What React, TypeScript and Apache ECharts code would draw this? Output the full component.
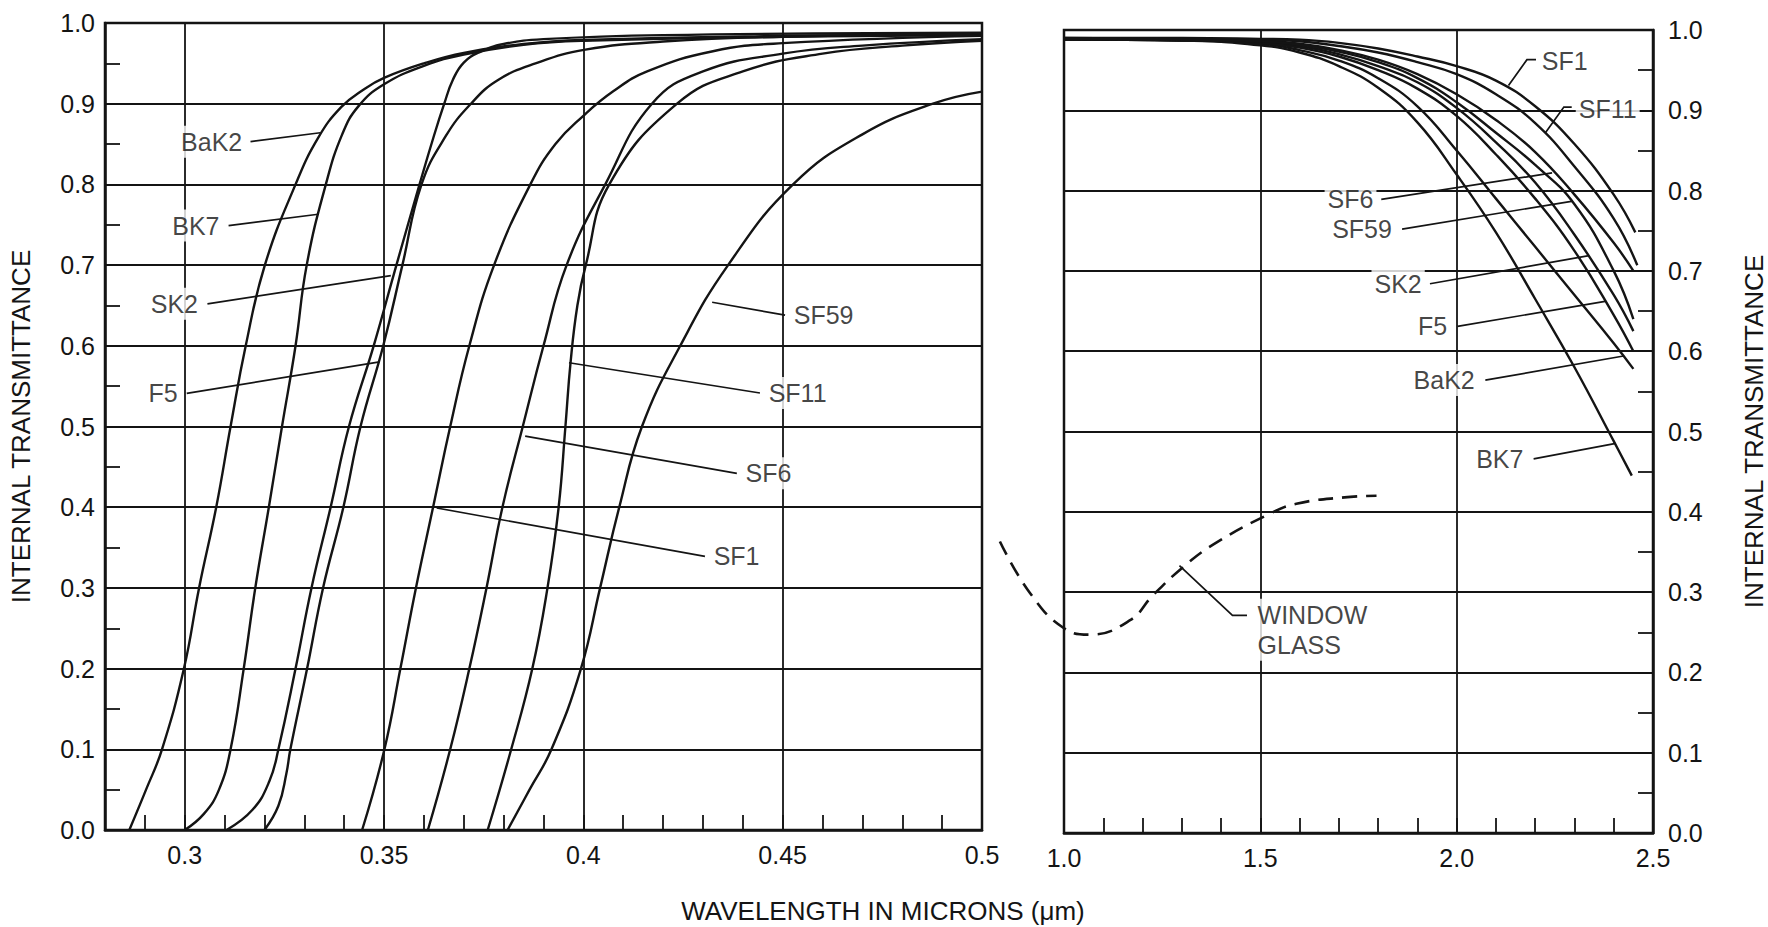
import React, { useEffect, useRef } from "react";
import * as echarts from "echarts";

type P = [number, number];

// ---------- UV edge (left panel), x = wavelength in microns, y = internal transmittance ----------
const bak2UV: P[] = [[0.2861,0],[0.2903,0.05],[0.2943,0.1],[0.2998,0.2],[0.3036,0.3],[0.3079,0.4],[0.3115,0.5],[0.3153,0.6],[0.3201,0.7],[0.3278,0.8],[0.3335,0.858],[0.3393,0.896],[0.345,0.918],[0.35,0.932],[0.36,0.95],[0.37,0.963],[0.385,0.974],[0.4,0.979],[0.45,0.984],[0.5,0.986]];
const bk7UV: P[] = [[0.3,0],[0.3048,0.02],[0.3086,0.05],[0.3115,0.1],[0.3148,0.2],[0.3177,0.3],[0.3211,0.4],[0.3244,0.5],[0.3278,0.6],[0.3306,0.7],[0.3354,0.8],[0.3395,0.862],[0.3436,0.897],[0.35,0.924],[0.36,0.947],[0.37,0.961],[0.385,0.973],[0.4,0.978],[0.45,0.983],[0.5,0.985]];
const sk2UV: P[] = [[0.3105,0],[0.317,0.025],[0.3212,0.06],[0.3235,0.1],[0.3278,0.2],[0.3318,0.3],[0.3366,0.4],[0.3412,0.5],[0.3474,0.6],[0.3531,0.7],[0.3589,0.8],[0.3625,0.86],[0.3651,0.9],[0.3673,0.93],[0.37,0.951],[0.374,0.964],[0.38,0.974],[0.39,0.98],[0.42,0.985],[0.5,0.988]];
const f5UV: P[] = [[0.32,0],[0.3235,0.03],[0.3255,0.07],[0.3265,0.1],[0.3307,0.2],[0.3347,0.3],[0.3398,0.4],[0.3441,0.5],[0.3498,0.6],[0.3546,0.7],[0.3594,0.8],[0.3655,0.86],[0.3718,0.9],[0.3785,0.929],[0.388,0.95],[0.4005,0.967],[0.42,0.977],[0.45,0.983],[0.5,0.986]];
const sf1UV: P[] = [[0.3445,0],[0.3501,0.1],[0.3541,0.2],[0.358,0.3],[0.3623,0.4],[0.3666,0.5],[0.3714,0.6],[0.3776,0.7],[0.3867,0.8],[0.393,0.85],[0.4,0.885],[0.4074,0.915],[0.416,0.94],[0.4325,0.965],[0.45,0.975],[0.5,0.984]];
const sf6UV: P[] = [[0.361,0],[0.3666,0.1],[0.3714,0.2],[0.3757,0.3],[0.3797,0.4],[0.3848,0.5],[0.39,0.6],[0.3958,0.7],[0.4055,0.8],[0.4172,0.9],[0.43,0.94],[0.45,0.962],[0.47,0.972],[0.5,0.98]];
const sf11UV: P[] = [[0.376,0],[0.3819,0.1],[0.3872,0.2],[0.391,0.3],[0.3938,0.4],[0.3955,0.5],[0.3968,0.58],[0.3985,0.65],[0.4006,0.7],[0.4065,0.8],[0.4235,0.9],[0.44,0.94],[0.46,0.962],[0.48,0.972],[0.5,0.978]];
const sf59UV: P[] = [[0.381,0],[0.3865,0.05],[0.392,0.1],[0.3994,0.2],[0.4042,0.3],[0.409,0.4],[0.4147,0.5],[0.4243,0.6],[0.4363,0.7],[0.4526,0.8],[0.47,0.862],[0.4877,0.9],[0.5,0.915]];

// ---------- IR edge (right panel) ----------
const bk7IR: P[] = [[1.0,0.988],[1.3,0.987],[1.5,0.981],[1.6,0.972],[1.7,0.955],[1.8,0.928],[1.9,0.885],[2.0,0.82],[2.1,0.748],[2.2,0.665],[2.3,0.58],[2.4,0.488],[2.446,0.445]];
const bak2IR: P[] = [[1.0,0.988],[1.3,0.987],[1.5,0.983],[1.6,0.975],[1.7,0.962],[1.8,0.94],[1.9,0.905],[2.0,0.85],[2.1,0.79],[2.2,0.73],[2.3,0.67],[2.4,0.61],[2.45,0.578]];
const f5IR: P[] = [[1.0,0.988],[1.3,0.987],[1.5,0.984],[1.6,0.978],[1.7,0.967],[1.8,0.95],[1.9,0.927],[2.0,0.893],[2.1,0.845],[2.2,0.79],[2.3,0.725],[2.4,0.645],[2.45,0.6]];
const sk2IR: P[] = [[1.0,0.989],[1.3,0.988],[1.5,0.985],[1.6,0.98],[1.7,0.97],[1.8,0.955],[1.9,0.935],[2.0,0.903],[2.1,0.86],[2.2,0.81],[2.3,0.745],[2.4,0.67],[2.45,0.625]];
const sf59IR: P[] = [[1.0,0.989],[1.3,0.988],[1.5,0.986],[1.6,0.982],[1.7,0.973],[1.8,0.96],[1.9,0.94],[2.0,0.91],[2.1,0.872],[2.2,0.832],[2.3,0.783],[2.4,0.7],[2.45,0.64]];
const sf6IR: P[] = [[1.0,0.989],[1.3,0.988],[1.5,0.986],[1.6,0.983],[1.7,0.975],[1.8,0.963],[1.9,0.945],[2.0,0.92],[2.1,0.888],[2.2,0.848],[2.3,0.795],[2.4,0.735],[2.45,0.7]];
const sf11IR: P[] = [[1.0,0.99],[1.3,0.989],[1.5,0.988],[1.6,0.986],[1.7,0.98],[1.8,0.972],[1.9,0.96],[2.0,0.945],[2.1,0.92],[2.2,0.884],[2.3,0.83],[2.4,0.765],[2.46,0.707]];
const sf1IR: P[] = [[1.0,0.99],[1.3,0.99],[1.5,0.989],[1.6,0.988],[1.7,0.984],[1.8,0.977],[1.9,0.967],[2.0,0.955],[2.1,0.937],[2.2,0.905],[2.3,0.858],[2.4,0.795],[2.455,0.748]];
const windowGlass: P[] = [[0.84,0.363],[0.915,0.299],[1.0,0.255],[1.065,0.247],[1.165,0.265],[1.222,0.296],[1.297,0.331],[1.372,0.359],[1.507,0.396],[1.58,0.41],[1.7,0.418],[1.78,0.42]];

// ---------- axes ----------
const leftMajorX = [0.3, 0.35, 0.4, 0.45];
const rightMajorX = [1.5, 2.0];
const glassAxisMin = 0.84; // the window-glass trace starts in the gap left of the right panel

// ---------- annotations: label anchor, side, leader path (data units) ----------
type Note = { name: string; at: P; side: "left" | "right"; leader: P[] };
const leftNotes: Note[] = [
  { name: "BaK2", at: [0.3153, 0.853], side: "left", leader: [[0.3165, 0.853], [0.334, 0.864]] },
  { name: "BK7", at: [0.3096, 0.749], side: "left", leader: [[0.311, 0.749], [0.3335, 0.763]] },
  { name: "SK2", at: [0.3042, 0.652], side: "left", leader: [[0.3057, 0.652], [0.3517, 0.687]] },
  { name: "F5", at: [0.2991, 0.541], side: "left", leader: [[0.3005, 0.541], [0.3489, 0.58]] },
  { name: "SF1", at: [0.4318, 0.339], side: "right", leader: [[0.4305, 0.339], [0.3632, 0.399]] },
  { name: "SF6", at: [0.4398, 0.442], side: "right", leader: [[0.4385, 0.442], [0.3854, 0.488]] },
  { name: "SF11", at: [0.4456, 0.5415], side: "right", leader: [[0.4443, 0.5415], [0.3964, 0.579]] },
  { name: "SF59", at: [0.4519, 0.638], side: "right", leader: [[0.4506, 0.638], [0.4323, 0.654]] },
];
const rightNotes: Note[] = [
  { name: "SF1", at: [2.208, 0.962], side: "right", leader: [[2.202, 0.963], [2.179, 0.963], [2.132, 0.931]] },
  { name: "SF11", at: [2.302, 0.902], side: "right", leader: [[2.293, 0.904], [2.273, 0.904], [2.226, 0.872]] },
  { name: "SF6", at: [1.797, 0.789], side: "left", leader: [[1.808, 0.789], [2.243, 0.822]] },
  { name: "SF59", at: [1.844, 0.752], side: "left", leader: [[1.861, 0.752], [2.296, 0.787]] },
  { name: "SK2", at: [1.92, 0.684], side: "left", leader: [[1.932, 0.684], [2.337, 0.719]] },
  { name: "F5", at: [1.985, 0.631], side: "left", leader: [[2.002, 0.631], [2.378, 0.662]] },
  { name: "BaK2", at: [2.055, 0.564], side: "left", leader: [[2.073, 0.564], [2.425, 0.594]] },
  { name: "BK7", at: [2.179, 0.466], side: "left", leader: [[2.196, 0.466], [2.402, 0.485]] },
  { name: "WINDOW\nGLASS", at: [1.484, 0.253], side: "right", leader: [[1.466, 0.271], [1.429, 0.271], [1.294, 0.333]] },
];

const uvSeries: [string, P[]][] = [["BaK2", bak2UV], ["BK7", bk7UV], ["SK2", sk2UV], ["F5", f5UV], ["SF1", sf1UV], ["SF6", sf6UV], ["SF11", sf11UV], ["SF59", sf59UV]];
const irSeries: [string, P[]][] = [["BaK2", bak2IR], ["BK7", bk7IR], ["SK2", sk2IR], ["F5", f5IR], ["SF1", sf1IR], ["SF6", sf6IR], ["SF11", sf11IR], ["SF59", sf59IR]];

const INK = "#141414";
const FONT = "Liberation Sans";

// right panel geometry (px)
const R_LEFT = 1064;
const R_WIDTH = 601;
const R_MIN = 1.0;
const R_MAX = 2.5;

function buildOption(): any {
  const near = (v: number, step: number) => Math.abs(v / step - Math.round(v / step)) < 1e-6;
  const axisCommon = {
    type: "value",
    axisLine: { show: true, onZero: false, lineStyle: { color: INK, width: 2.5 } },
    axisTick: { show: true, inside: true, length: 15, lineStyle: { color: INK, width: 1.8 } },
    axisLabel: { color: INK, fontSize: 25, fontFamily: FONT },
    splitLine: { show: false },
  };
  const yCommon = (gridIndex: number, position: string, margin: number, nameGap: number) => ({
    ...axisCommon,
    gridIndex,
    position,
    min: 0,
    max: 1,
    interval: 0.1,
    minorTick: { show: true, splitNumber: 2, length: 15, lineStyle: { color: INK, width: 1.8 } },
    splitLine: { show: true, lineStyle: { color: INK, width: 1.8 } },
    axisLabel: { ...axisCommon.axisLabel, margin, formatter: (v: number) => v.toFixed(1) },
    name: "INTERNAL TRANSMITTANCE",
    nameLocation: "middle",
    nameRotate: 90,
    nameGap,
    nameTextStyle: { color: INK, fontSize: 26, fontFamily: FONT },
  });

  const curve = (name: string, data: P[], axis: number, extra: any = {}) => ({
    type: "line",
    name,
    xAxisIndex: axis,
    yAxisIndex: axis,
    data,
    symbol: "none",
    showSymbol: false,
    smooth: 0.45,
    silent: true,
    z: 3,
    lineStyle: { color: INK, width: 2.4 },
    ...extra,
  });

  const vGrid = (vals: number[]) => ({
    silent: true,
    symbol: ["none", "none"],
    label: { show: false },
    lineStyle: { color: INK, width: 1.8, type: "solid" },
    data: vals.map((v) => ({ xAxis: v })),
  });

  const series: any[] = [];
  uvSeries.forEach(([n, d], i) => series.push(curve(n, d, 0, i === 0 ? { markLine: vGrid(leftMajorX) } : {})));
  irSeries.forEach(([n, d], i) => series.push(curve(n, d, 1, i === 0 ? { markLine: vGrid(rightMajorX) } : {})));
  series.push(curve("WINDOW GLASS", windowGlass, 2, { lineStyle: { color: INK, width: 2.6, type: [15, 9] } }));

  [leftNotes, rightNotes].forEach((notes, axis) => {
    series.push({
      type: "lines",
      coordinateSystem: "cartesian2d",
      xAxisIndex: axis,
      yAxisIndex: axis,
      polyline: true,
      silent: true,
      symbol: ["none", "arrow"],
      symbolSize: 11,
      z: 5,
      lineStyle: { color: INK, width: 1.7, opacity: 1, curveness: 0 },
      data: notes.map((n) => ({ coords: n.leader })),
    });
    series.push({
      type: "scatter",
      xAxisIndex: axis,
      yAxisIndex: axis,
      silent: true,
      symbolSize: 1,
      z: 6,
      itemStyle: { color: "rgba(0,0,0,0)" },
      label: {
        show: true,
        formatter: "{b}",
        distance: 0,
        color: INK,
        fontSize: 25,
        fontFamily: FONT,
        lineHeight: 30,
        backgroundColor: "#fff",
        padding: [1, 3],
      },
      data: notes.map((n) => ({
        name: n.name,
        value: n.at,
        label: { position: n.side, align: n.side === "left" ? "right" : "left" },
      })),
    });
  });

  const pxPerUnit = R_WIDTH / (R_MAX - R_MIN);
  const glassLeft = R_LEFT - (R_MIN - glassAxisMin) * pxPerUnit;
  const hidden = { show: false, axisLine: { show: false }, axisTick: { show: false }, axisLabel: { show: false }, splitLine: { show: false } };

  return {
    animation: false,
    backgroundColor: "#fff",
    grid: [
      { left: 105, top: 23, width: 877, height: 807, show: true, borderColor: INK, borderWidth: 2.5 },
      { left: R_LEFT, top: 30, width: R_WIDTH, height: 803, show: true, borderColor: INK, borderWidth: 2.5 },
      { left: glassLeft, top: 30, width: R_LEFT + R_WIDTH - glassLeft, height: 803, show: false },
    ],
    xAxis: [
      {
        ...axisCommon,
        gridIndex: 0,
        min: 0.28,
        max: 0.5,
        interval: 0.01,
        axisLabel: { ...axisCommon.axisLabel, margin: 12, formatter: (v: number) => (near(v, 0.05) ? String(+v.toFixed(2)) : "") },
      },
      {
        ...axisCommon,
        gridIndex: 1,
        min: R_MIN,
        max: R_MAX,
        interval: 0.1,
        axisLabel: { ...axisCommon.axisLabel, margin: 12, formatter: (v: number) => (near(v, 0.5) ? v.toFixed(1) : "") },
      },
      { type: "value", gridIndex: 2, min: glassAxisMin, max: R_MAX, ...hidden },
    ],
    yAxis: [
      yCommon(0, "left", 10, 71),
      yCommon(1, "right", 15, 88),
      { type: "value", gridIndex: 2, min: 0, max: 1, ...hidden },
    ],
    graphic: [
      {
        type: "text",
        x: 883,
        y: 911,
        silent: true,
        style: {
          text: "WAVELENGTH IN MICRONS (\u03bcm)",
          align: "center",
          verticalAlign: "middle",
          fontSize: 26,
          fontFamily: FONT,
          fill: INK,
        },
      },
    ],
    series,
  };
}

export default function App() {
  const ref = useRef<HTMLDivElement>(null);
  useEffect(() => {
    const chart = echarts.init(ref.current as HTMLDivElement, null, { renderer: "svg" });
    chart.setOption(buildOption());
    return () => chart.dispose();
  }, []);
  return (
    <div
      ref={ref}
      style={{ position: "absolute", left: 0, top: 0, width: 1768, height: 927, background: "#fff" }}
    />
  );
}
